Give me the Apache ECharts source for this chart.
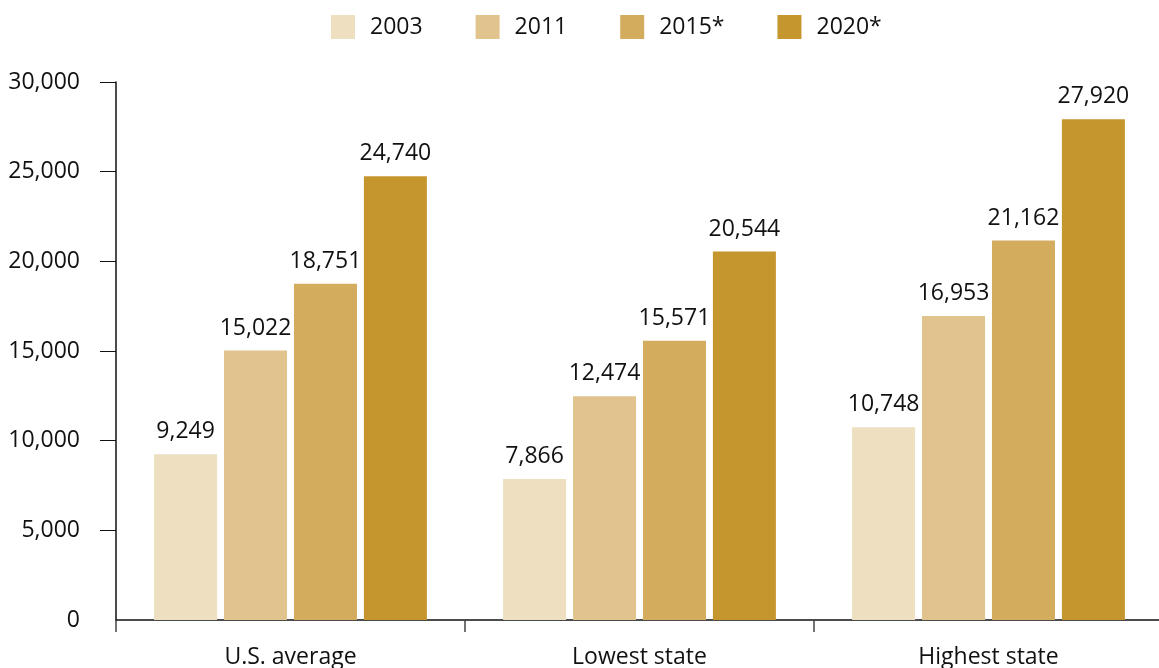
<!DOCTYPE html>
<html>
<head>
<meta charset="utf-8">
<script src="https://cdn.jsdelivr.net/npm/echarts@6/dist/echarts.min.js"></script>
<style>
  html, body { margin: 0; padding: 0; background: #fff; }
  #chart { width: 1159px; height: 668px; }
</style>
</head>
<body>
<div id="chart"></div>
<script>
const categories = ["U.S. average", "Lowest state", "Highest state"];
const seriesNames = ["2003", "2011", "2015*", "2020*"];
const v2003 = [9249, 7866, 10748];
const v2011 = [15022, 12474, 16953];
const v2015 = [18751, 15571, 21162];
const v2020 = [24740, 20544, 27920];
const yLabels = [0, 5000, 10000, 15000, 20000, 25000, 30000];
const colors = ["#EDDFC0", "#E1C48D", "#D4AC5E", "#C6962E"];

const font = "Open Sans";
const allValues = [v2003, v2011, v2015, v2020];

const series = seriesNames.map(function (name, i) {
  return {
    name: name,
    type: "bar",
    data: allValues[i],
    barWidth: 63,
    barGap: "11%",
    itemStyle: { color: colors[i] },
    label: {
      show: true,
      position: "top",
      distance: 11,
      color: "#111",
      fontFamily: font,
      fontSize: 23,
      formatter: function (p) {
        return p.value.toLocaleString("en-US");
      },
    },
  };
});

const option = {
  animation: false,
  textStyle: { fontFamily: font },
  legend: {
    top: 15,
    left: 331,
    padding: 0,
    itemWidth: 24,
    itemHeight: 24,
    itemGap: 53,
    icon: "rect",
    textStyle: {
      fontFamily: font,
      fontSize: 23,
      color: "#111",
      padding: [0, 0, 0, 10],
    },
    data: seriesNames,
  },
  grid: {
    left: 116,
    top: 82,
    width: 1047,
    height: 538,
    outerBoundsMode: "none",
  },
  xAxis: {
    type: "category",
    data: categories,
    axisLine: { lineStyle: { color: "#111", width: 1.5 } },
    axisTick: {
      show: true,
      length: 12,
      lineStyle: { color: "#444", width: 1.5 },
    },
    axisLabel: {
      margin: 26,
      color: "#111",
      fontFamily: font,
      fontSize: 23,
    },
  },
  yAxis: {
    type: "value",
    min: 0,
    max: 30000,
    interval: 5000,
    splitLine: { show: false },
    axisLine: { show: true, lineStyle: { color: "#111", width: 1.5 } },
    axisTick: {
      show: true,
      length: 16,
      customValues: yLabels.slice(1),
      lineStyle: { color: "#111", width: 1 },
    },
    axisLabel: {
      margin: 36,
      color: "#111",
      fontFamily: font,
      fontSize: 23,
      customValues: yLabels,
      formatter: function (v) {
        return v.toLocaleString("en-US");
      },
    },
  },
  series: series,
};

var chartDom = document.getElementById("chart");
var myChart = echarts.init(chartDom);
option && myChart.setOption(option);
</script>
</body>
</html>
